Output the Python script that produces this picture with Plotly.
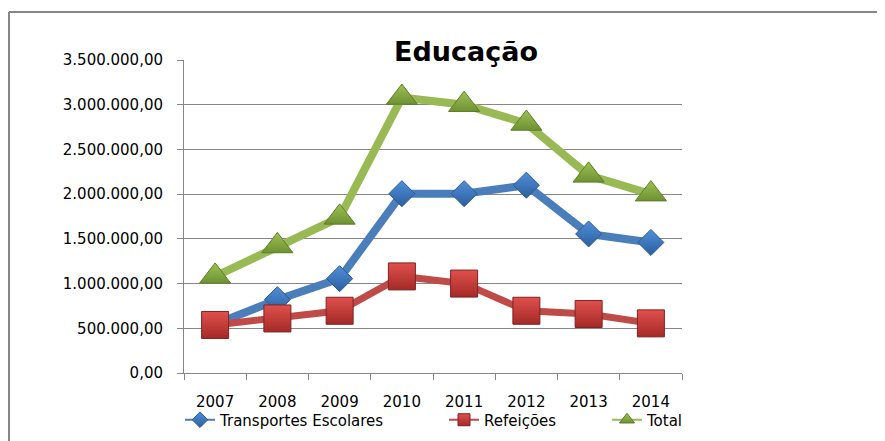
import plotly.graph_objects as go

# ---------------- data ----------------
anos = ["2007", "2008", "2009", "2010", "2011", "2012", "2013", "2014"]
transportes = [545000, 820000, 1055000, 2005000, 2005000, 2100000, 1555000, 1460000]
refeicoes = [537000, 610000, 696000, 1080000, 1000000, 696000, 660000, 555000]
total = [1080000, 1420000, 1740000, 3080000, 3000000, 2790000, 2210000, 2000000]

y_tick_vals = [0, 500000, 1000000, 1500000, 2000000, 2500000, 3000000, 3500000]
y_tick_text = ["0,00", "500.000,00", "1.000.000,00", "1.500.000,00",
               "2.000.000,00", "2.500.000,00", "3.000.000,00", "3.500.000,00"]

series_names = ["Transportes Escolares", "Refeições", "Total"]
title_text = "Educação"

# ---------------- layout geometry ----------------
# the page body has an 8px margin, so the figure is drawn 8px in from the
# window's top-left corner; reference pixel positions are converted below.
OFF = 8
W, H = 885 - OFF, 441 - OFF
PL, PR, PT, PB = 184 - OFF, 682 - OFF, 60 - OFF, 373 - OFF
pw, ph = PR - PL, PB - PT


def px(x):  # reference window x -> paper x
    return (x - OFF - PL) / pw


def py(y):  # reference window y -> paper y
    return (PB - (y - OFF)) / ph


def cx(x):  # reference window x -> container x
    return (x - OFF) / W


def cy(y):  # reference window y -> container y
    return 1 - (y - OFF) / H


BLUE_LINE = "#4A7EBB"
RED_LINE = "#BE4B48"
GREEN_LINE = "#98B954"

styles = [
    dict(line=BLUE_LINE, sym="diamond", size=20, fill="#4F8FDA", grad="#2C5F9E", edge="#2B5A94", lw=8, lsize=12),
    dict(line=RED_LINE, sym="square", size=27, fill="#E0504C", grad="#A42A27", edge="#7E2220", lw=7, lsize=12),
    dict(line=GREEN_LINE, sym="triangle-up", size=27, fill="#9DC253", grad="#6E9133", edge="#5E7D2A", lw=8, lsize=13),
]
values = [transportes, refeicoes, total]

fig = go.Figure()

for name, vals, st in zip(series_names, values, styles):
    fig.add_trace(go.Scatter(
        x=anos, y=vals, mode="lines+markers", name=name, showlegend=False,
        line=dict(color=st["line"], width=st["lw"]),
        marker=dict(symbol=st["sym"], size=st["size"], color=st["fill"],
                    gradient=dict(type="vertical", color=st["grad"]),
                    line=dict(color=st["edge"], width=1)),
    ))

# legend entries (thin lines, small markers)
legend_ids = ["legend", "legend2", "legend3"]
for name, st, lid in zip(series_names, styles, legend_ids):
    fig.add_trace(go.Scatter(
        x=[None], y=[None], mode="lines+markers", name=name, legend=lid,
        line=dict(color=st["line"], width=2),
        marker=dict(symbol=st["sym"], size=st["lsize"], color=st["fill"],
                    gradient=dict(type="vertical", color=st["grad"]),
                    line=dict(color=st["edge"], width=1)),
    ))

font_main = "DejaVu Sans"
leg_common = dict(orientation="h", yanchor="middle", xanchor="left",
                  xref="container", yref="container",
                  font=dict(family=font_main, size=15, color="#000000"),
                  bgcolor="rgba(0,0,0,0)", borderwidth=0, itemwidth=30)

fig.update_layout(
    width=W, height=H,
    margin=dict(l=PL, r=W - PR, t=PT, b=H - PB, pad=0, autoexpand=False),
    paper_bgcolor="white", plot_bgcolor="white",
    title=dict(text="<b>" + title_text + "</b>", x=cx(466), xref="container", xanchor="center",
               y=cy(52), yref="container", yanchor="middle",
               font=dict(family=font_main, size=27, color="#000000")),
    xaxis=dict(type="category", range=[-0.5, len(anos) - 0.5],
               showgrid=False, showline=True, linecolor="#868686", linewidth=1,
               ticks="outside", ticklen=6, tickcolor="#868686", tickson="boundaries",
               tickfont=dict(family=font_main, size=15, color="#000000"),
               ticklabelstandoff=15),
    yaxis=dict(range=[0, 3500000], tickvals=y_tick_vals, ticktext=y_tick_text,
               showgrid=True, gridcolor="#868686", gridwidth=1,
               showline=True, linecolor="#868686", linewidth=1,
               ticks="outside", ticklen=6, tickcolor="#868686",
               tickfont=dict(family=font_main, size=15, color="#000000"),
               ticklabelstandoff=11, zeroline=False),
    legend=dict(x=cx(180), y=cy(420), **leg_common),
    legend2=dict(x=cx(444), y=cy(420), **leg_common),
    legend3=dict(x=cx(607), y=cy(420), **leg_common),
    shapes=[
        dict(type="line", xref="paper", yref="paper", x0=px(9), x1=px(900), y0=py(12), y1=py(12),
             line=dict(color="#868686", width=2)),
        dict(type="line", xref="paper", yref="paper", x0=px(9), x1=px(9), y0=py(12), y1=py(460),
             line=dict(color="#868686", width=2)),
    ],
)

fig.write_html("out.html")
